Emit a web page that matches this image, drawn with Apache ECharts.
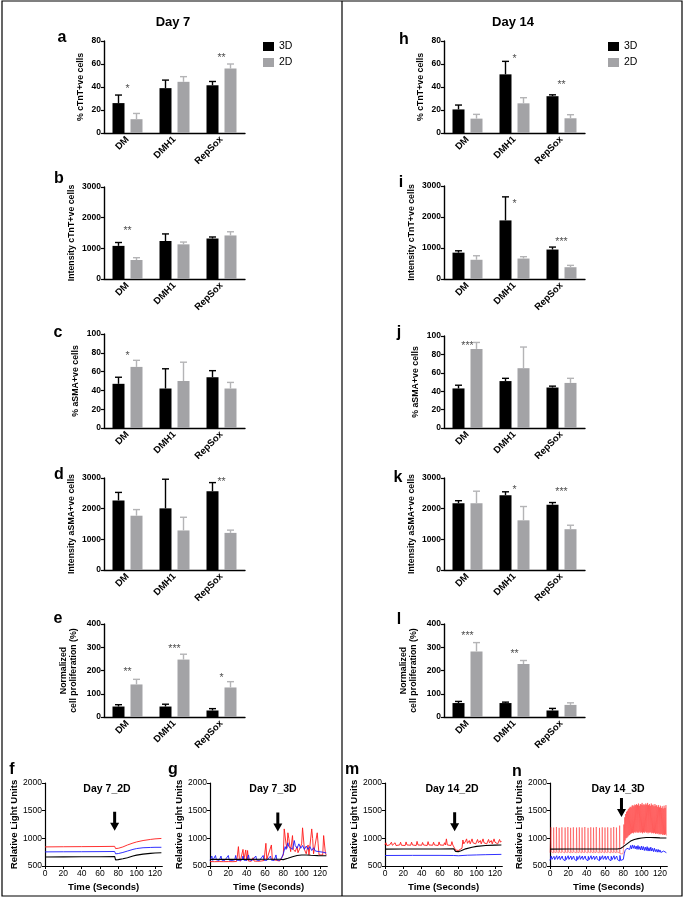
<!DOCTYPE html>
<html><head><meta charset="utf-8">
<script src="https://cdn.jsdelivr.net/npm/echarts@6/dist/echarts.min.js"></script>
<style>html,body{margin:0;padding:0;background:#fff}#c{width:685px;height:902px}</style>
</head><body><div id="c"></div>
<script>
// ---------------- DATA ----------------
const categories = ['DM', 'DMH1', 'RepSox'];
const timeTicks = [0, 20, 40, 60, 80, 100, 120];

// a: % cTnT+ve cells, Day 7
const a3D = [26, 39, 41.5], a3Derr = [7, 7, 3.3];
const a2D = [12, 44.5, 56], a2Derr = [5, 4.5, 4];
const aSig = ['*', '', '**'], aSigY = [41, null, 68];
// b: Intensity cTnT+ve cells, Day 7
const b3D = [1080, 1240, 1320], b3Derr = [110, 230, 50];
const b2D = [620, 1130, 1420], b2Derr = [75, 75, 120];
const bSig = ['**', '', ''], bSigY = [1660, null, null];
// c: % aSMA+ve cells, Day 7
const c3D = [47, 42, 54], c3Derr = [7, 21, 7];
const c2D = [65, 50, 42], c2Derr = [7, 20, 6.5];
const cSig = ['*', '', ''], cSigY = [80, null, null];
// d: Intensity aSMA+ve cells, Day 7
const d3D = [2270, 2010, 2570], d3Derr = [260, 950, 280];
const d2D = [1770, 1290, 1210], d2Derr = [200, 430, 90];
const dSig = ['', '', '**'], dSigY = [null, null, 2950];
// e: Normalized cell proliferation, Day 7
const e3D = [45, 45, 28], e3Derr = [8, 10, 8];
const e2D = [140, 247, 127], e2Derr = [22, 23, 25];
const eSig = ['**', '***', '*'], eSigY = [206, 305, 180];

// h: % cTnT+ve cells, Day 14
const h3D = [20.5, 51, 32], h3Derr = [3.8, 11.3, 1.2];
const h2D = [12.5, 25.8, 12.8], h2Derr = [3.7, 4.9, 3.1];
const hSig = ['', '*', '**'], hSigY = [null, 67, 44.5];
// i: Intensity cTnT+ve cells, Day 14
const i3D = [850, 1890, 950], i3Derr = [60, 760, 80];
const i2D = [620, 660, 380], i2Derr = [130, 60, 60];
const iSig = ['', '*', '***'], iSigY = [null, 2520, 1280];
// j: % aSMA+ve cells, Day 14
const j3D = [43, 51, 44], j3Derr = [3.5, 3, 1.5];
const j2D = [86, 65, 49], j2Derr = [7, 23, 5];
const jSig = ['***', '', ''], jSigY = [92, null, null];
// k: Intensity aSMA+ve cells, Day 14
const k3D = [2180, 2440, 2130], k3Derr = [80, 110, 70];
const k2D = [2180, 1620, 1330], k2Derr = [390, 450, 130];
const kSig = ['', '*', '***'], kSigY = [null, 2700, 2640];
// l: Normalized cell proliferation, Day 14
const l3D = [60, 60, 28], l3Derr = [7, 4, 9];
const l2D = [282, 228, 52], l2Derr = [38, 15, 9];
const lSig = ['***', '**', ''], lSigY = [361, 284, null];

// f: Day 7_2D calcium traces [seconds, RLU]
const fRed = [[0,845],[20,848],[40,850],[60,852],[76,855],[77,815],[80,820],[85,845],[90,880],[96,915],[100,935],[107,960],[115,980],[120,990],[127,998]];
const fBlue = [[0,755],[20,757],[40,758],[60,760],[76,762],[77,720],[80,725],[85,745],[90,770],[96,800],[100,815],[107,830],[115,835],[120,838],[127,838]];
const fBlack = [[0,663],[20,665],[40,666],[60,668],[76,672],[77,610],[80,615],[85,630],[90,650],[96,680],[100,697],[107,715],[115,728],[120,735],[127,740]];
const fArrow = [76, 1310];

// g: Day 7_3D
const gRed = [[0,580],[5,578],[10,580],[15,578],[20,580],[25,578],[29,582],[30,700],[31,850],[32,640],[33,585],[35,600],[36,800],[37,620],[38,590],[39,790],[40,600],[41,780],[42,590],[45,585],[47,650],[48,590],[52,585],[56,590],[59,600],[61,910],[62,620],[64,590],[67,880],[68,620],[70,590],[73,600],[76,590],[78,620],[80,700],[81,1170],[82,1150],[83,900],[84,820],[85,1100],[86,1000],[88,760],[90,1050],[91,800],[93,760],[95,850],[96,740],[98,760],[100,900],[101,1190],[102,1180],[103,800],[105,720],[107,880],[108,700],[110,720],[111,1170],[112,1000],[113,720],[115,700],[117,1100],[118,900],[119,700],[121,690],[123,700],[124,1050],[125,1050],[126,720],[127,700]];
const gBlue = [[0,600],[2,680],[3,600],[5,610],[6,690],[7,610],[10,600],[12,680],[13,605],[16,600],[18,620],[20,690],[21,605],[24,600],[27,610],[28,690],[29,605],[32,600],[35,610],[36,680],[37,605],[40,600],[42,700],[43,610],[46,600],[48,620],[50,680],[51,605],[54,600],[56,610],[58,690],[59,605],[62,600],[64,610],[66,680],[67,605],[70,600],[72,700],[73,610],[76,600],[78,640],[80,720],[82,850],[83,800],[85,920],[86,850],[88,880],[90,800],[92,960],[93,870],[95,820],[97,900],[99,820],[101,870],[103,800],[105,860],[107,800],[109,850],[111,780],[113,830],[115,770],[117,800],[119,760],[121,780],[123,750],[125,740],[127,735]];
const gBlack = [[0,620],[20,622],[40,620],[60,622],[76,622],[78,610],[80,615],[85,640],[90,668],[95,690],[100,700],[105,700],[110,695],[118,688],[127,685]];
const gArrow = [74, 1295];

// m: Day 14_2D
const mRed = [[0,880],[1,920],[2,870],[4,900],[5,880],[7,930],[8,875],[10,890],[11,920],[12,870],[14,900],[16,880],[17,930],[18,875],[20,895],[22,870],[23,935],[24,880],[26,890],[28,875],[29,930],[30,880],[32,900],[34,870],[35,945],[36,880],[38,895],[40,875],[41,925],[42,880],[44,905],[46,870],[47,940],[48,880],[50,895],[52,875],[53,930],[54,880],[56,900],[58,870],[59,935],[60,880],[62,900],[64,875],[65,920],[66,880],[67,990],[68,880],[70,895],[72,870],[73,940],[74,880],[76,870],[77,790],[80,780],[82,790],[84,820],[85,970],[86,900],[88,950],[89,990],[90,910],[92,960],[93,900],[95,990],[96,920],[98,950],[99,900],[101,980],[102,920],[104,960],[105,900],[107,990],[108,920],[110,950],[111,900],[113,980],[114,920],[116,960],[117,900],[119,990],[120,930],[122,950],[123,900],[125,980],[126,930],[127,950]];
const mBlue = [[0,690],[30,692],[60,692],[75,690],[80,685],[90,695],[100,700],[110,705],[127,710]];
const mBlack = [[0,805],[20,807],[40,808],[60,808],[75,810],[77,765],[80,760],[83,775],[88,810],[95,840],[100,855],[110,870],[120,878],[127,880]];
const mArrow = [76, 1300];

// n: Day 14_3D
const nRed = [[0,740],[0.7,735],[1,1200],[1.4,760],[3.7,735],[4,1195],[4.4,755],[6.7,740],[7,1205],[7.4,760],[9.7,735],[10,1190],[10.4,755],[12.7,740],[13,1200],[13.4,760],[16.2,735],[16.5,1195],[16.9,755],[19.2,740],[19.5,1205],[19.9,760],[22.2,735],[22.5,1190],[22.9,755],[25.2,740],[25.5,1200],[25.9,760],[28.7,735],[29,1195],[29.4,755],[31.7,740],[32,1200],[32.4,760],[34.7,735],[35,1195],[35.4,755],[37.7,740],[38,1205],[38.4,760],[41.2,735],[41.5,1190],[41.9,755],[44.2,740],[44.5,1200],[44.9,760],[47.2,735],[47.5,1195],[47.9,755],[50.2,740],[50.5,1205],[50.9,760],[53.7,735],[54,1190],[54.4,755],[56.7,740],[57,1200],[57.4,760],[59.7,735],[60,1195],[60.4,755],[62.7,740],[63,1200],[63.4,760],[66.2,735],[66.5,1190],[66.9,755],[69.2,740],[69.5,1205],[69.9,760],[72.2,735],[72.5,1195],[72.9,755],[75.7,740],[76,1230],[76.4,720],[78,700],[79.5,720],
  [80,760],[80.5,1250],[81,900],[81.5,1380],[82,960],[82.5,1440],[83,1000],[83.5,1480],[84,1010],[84.5,1500],[85,1030],[85.5,1530],[86,1050],[86.5,1550],[87,1060],[87.5,1570],[88,1080],[88.5,1560],[89,1090],[89.5,1590],[90,1100],[90.5,1600],[91,1090],[91.5,1580],[92,1110],[92.5,1610],[93,1100],[93.5,1600],[94,1120],[94.5,1620],[95,1100],[95.5,1600],[96,1110],[96.5,1630],[97,1100],[97.5,1590],[98,1120],[98.5,1620],[99,1100],[99.5,1610],[100,1110],[100.5,1640],[101,1090],[101.5,1600],[102,1110],[102.5,1620],[103,1100],[103.5,1600],[104,1120],[104.5,1630],[105,1100],[105.5,1610],[106,1110],[106.5,1640],[107,1090],[107.5,1600],[108,1110],[108.5,1620],[109,1100],[109.5,1590],[110,1110],[110.5,1630],[111,1090],[111.5,1600],[112,1100],[112.5,1610],[113,1090],[113.5,1580],[114,1100],[114.5,1620],[115,1080],[115.5,1590],[116,1090],[116.5,1600],[117,1080],[117.5,1570],[118,1090],[118.5,1600],[119,1070],[119.5,1560],[120,1080],[120.5,1590],[121,1070],[121.5,1550],[122,1080],[122.5,1580],[123,1060],[123.5,1540],[124,1070],[124.5,1590],[125,1060],[125.5,1550],[126,1070],[126.5,1600],[127,1050]];
const nBlue = [[0,600],[1,595],[1.3,680],[2.2,620],[4,595],[4.3,675],[5.2,615],[7,595],[7.3,685],[8.2,620],[10,595],[10.3,680],[11.2,615],[13,595],[13.3,680],[14.2,620],[16.5,595],[16.8,675],[17.7,615],[19.5,595],[19.8,685],[20.7,620],[22.5,595],[22.8,680],[23.7,615],[25.5,595],[25.8,680],[26.7,620],[29,595],[29.3,675],[30.2,615],[32,595],[32.3,685],[33.2,620],[35,595],[35.3,680],[36.2,615],[38,595],[38.3,680],[39.2,620],[41.5,595],[41.8,675],[42.7,615],[44.5,595],[44.8,685],[45.7,620],[47.5,595],[47.8,680],[48.7,615],[50.5,595],[50.8,680],[51.7,620],[54,595],[54.3,675],[55.2,615],[57,595],[57.3,685],[58.2,620],[60,595],[60.3,680],[61.2,615],[63,595],[63.3,680],[64.2,620],[66.5,595],[66.8,675],[67.7,615],[69.5,595],[69.8,685],[70.7,620],[72.5,595],[72.8,680],[73.7,615],[76,590],[76.3,690],[77.2,600],[78.5,565],[80,620],
  [81,720],[82,780],[83,760],[84,820],[85,790],[86,850],[87,800],[88,870],[89,810],[90,880],[91,820],[92,870],[93,810],[94,860],[95,800],[96,870],[97,800],[98,850],[99,790],[100,860],[101,790],[102,850],[103,780],[104,840],[105,780],[106,850],[107,770],[108,830],[109,770],[110,840],[111,770],[112,820],[113,760],[114,820],[115,760],[116,800],[117,750],[118,800],[119,750],[120,790],[121,745],[122,780],[123,745],[124,770],[125,740],[126,750],[127,740]];
const nBlack = [[0,805],[20,808],[40,806],[60,808],[74,810],[77,815],[80,850],[84,900],[88,950],[92,980],[96,995],[100,1005],[105,1015],[110,1015],[115,1012],[120,1008],[127,1005]];
const nArrow = [78, 1557];

// ---------------- BUILD ----------------
const FONT = "'Liberation Sans', Arial, Helvetica, sans-serif";
const C3D = '#000000', C2D = '#a3a3a6', C2DERR = '#b4b4b6';
const grids = [], xAxis = [], yAxis = [], series = [], graphic = [], legend = [];
const ARROW = 'path://M3,0 L6,0 L6,11 L9,11 L4.5,19 L0,11 L3,11 Z';
const plain = v => String(v);

function errSeries(i, vals, errs, color, off) {
  return {
    type: 'custom', xAxisIndex: i, yAxisIndex: i, z: 3, silent: true,
    data: vals.map((v, k) => [k, v, errs[k]]),
    renderItem: (params, api) => {
      const k = api.value(0), v = api.value(1), e = api.value(2);
      const p0 = api.coord([k, v]), p1 = api.coord([k, v + e]);
      const x = p0[0] + off;
      return { type: 'group', children: [
        { type: 'line', shape: { x1: x, y1: p0[1], x2: x, y2: p1[1] }, style: { stroke: color, lineWidth: 1.4 } },
        { type: 'line', shape: { x1: x - 3.5, y1: p1[1], x2: x + 3.5, y2: p1[1] }, style: { stroke: color, lineWidth: 1.4 } }
      ]};
    }
  };
}

function addBarPanel(box, yMax, yStep, yName, nameGap, v3, e3, v2, e2, sig, sigY) {
  const i = grids.length;
  grids.push({ left: box[0], top: box[1], width: box[2], height: box[3] });
  xAxis.push({ gridIndex: i, type: 'category', data: categories,
    axisLine: { lineStyle: { color: '#000', width: 1.4 } },
    axisTick: { alignWithLabel: true, length: 3, lineStyle: { color: '#000', width: 1.2 } },
    axisLabel: { rotate: 45, fontSize: 9.5, fontWeight: 'bold', color: '#000', fontFamily: FONT, margin: 5 } });
  yAxis.push({ gridIndex: i, type: 'value', min: 0, max: yMax, interval: yStep,
    name: yName, nameLocation: 'middle', nameGap: nameGap,
    nameTextStyle: { fontFamily: FONT, fontWeight: 'bold', fontSize: 8.8, color: '#000', lineHeight: 10 },
    axisLine: { show: true, lineStyle: { color: '#000', width: 1.4 } },
    axisTick: { show: true, length: 3, lineStyle: { color: '#000', width: 1.2 } },
    axisLabel: { fontSize: 8.5, fontWeight: 'bold', color: '#000', fontFamily: FONT, margin: 3, formatter: plain },
    splitLine: { show: false } });
  series.push({ type: 'bar', name: '3D', xAxisIndex: i, yAxisIndex: i, data: v3, barWidth: 12, barGap: '50%', itemStyle: { color: C3D } });
  series.push({ type: 'bar', name: '2D', xAxisIndex: i, yAxisIndex: i, data: v2, barWidth: 12, barGap: '50%', itemStyle: { color: C2D } });
  series.push(errSeries(i, v3, e3, C3D, -9));
  series.push(errSeries(i, v2, e2, C2DERR, 9));
  const sd = [];
  sig.forEach((s, k) => { if (s) sd.push({ name: s, value: [k, sigY[k]] }); });
  series.push({ type: 'scatter', xAxisIndex: i, yAxisIndex: i, symbolSize: 1, silent: true,
    itemStyle: { color: 'rgba(0,0,0,0)' }, data: sd,
    label: { show: true, position: 'inside', formatter: '{b}', fontSize: 10.5, color: '#222', fontFamily: FONT, offset: [0, 3] } });
}

function addLinePanel(box, red, blue, black, arrow, dense) {
  const i = grids.length;
  grids.push({ left: box[0], top: box[1], width: box[2], height: box[3] });
  xAxis.push({ gridIndex: i, type: 'value', min: 0, max: 128,
    name: 'Time (Seconds)', nameLocation: 'middle', nameGap: 16,
    nameTextStyle: { fontFamily: FONT, fontWeight: 'bold', fontSize: 9.6, color: '#000' },
    axisLine: { lineStyle: { color: '#000', width: 1.2 } },
    axisTick: { customValues: timeTicks, length: 3, lineStyle: { color: '#000' } },
    axisLabel: { customValues: timeTicks, fontSize: 8.5, color: '#000', fontFamily: FONT, margin: 3 },
    splitLine: { show: false } });
  yAxis.push({ gridIndex: i, type: 'value', min: 500, max: 2000, interval: 500,
    name: 'Relative Light Units', nameLocation: 'middle', nameGap: 24,
    nameTextStyle: { fontFamily: FONT, fontWeight: 'bold', fontSize: 9.6, color: '#000' },
    axisLine: { show: true, lineStyle: { color: '#000', width: 1.2 } },
    axisTick: { show: true, length: 3, lineStyle: { color: '#000' } },
    axisLabel: { fontSize: 8.5, color: '#000', fontFamily: FONT, margin: 3, formatter: plain },
    splitLine: { show: false } });
  const ls = (d, c, w, op) => ({ type: 'line', xAxisIndex: i, yAxisIndex: i, data: d, showSymbol: false, symbol: 'none', silent: true,
    lineStyle: { color: c, width: w, opacity: op } });
  series.push(ls(red, '#ff1a1a', dense ? 0.6 : 0.9, dense ? 0.75 : 1));
  series.push(ls(blue, '#1a1aff', 0.9, 1));
  const bl = ls(black, '#000', 1.1, 1);
  bl.markPoint = { symbol: ARROW, symbolSize: [9, 19], silent: true, itemStyle: { color: '#000' }, label: { show: false }, data: [{ coord: arrow }] };
  series.push(bl);
}

const L = 104, R = 444, W = 141;
addBarPanel([L, 41, W, 92], 80, 20, '% cTnT+ve cells', 18, a3D, a3Derr, a2D, a2Derr, aSig, aSigY);
addBarPanel([L, 187, W, 92], 3000, 1000, 'Intensity cTnT+ve cells', 27, b3D, b3Derr, b2D, b2Derr, bSig, bSigY);
addBarPanel([L, 334, W, 94], 100, 20, '% aSMA+ve cells', 23, c3D, c3Derr, c2D, c2Derr, cSig, cSigY);
addBarPanel([L, 478, W, 92], 3000, 1000, 'Intensity aSMA+ve cells', 27, d3D, d3Derr, d2D, d2Derr, dSig, dSigY);
addBarPanel([L, 624, W, 93], 400, 100, 'Normalized\ncell proliferation (%)', 25, e3D, e3Derr, e2D, e2Derr, eSig, eSigY);
addBarPanel([R, 41, W, 92], 80, 20, '% cTnT+ve cells', 18, h3D, h3Derr, h2D, h2Derr, hSig, hSigY);
addBarPanel([R, 186, W, 93], 3000, 1000, 'Intensity cTnT+ve cells', 27, i3D, i3Derr, i2D, i2Derr, iSig, iSigY);
addBarPanel([R, 336, W, 92], 100, 20, '% aSMA+ve cells', 23, j3D, j3Derr, j2D, j2Derr, jSig, jSigY);
addBarPanel([R, 478, W, 92], 3000, 1000, 'Intensity aSMA+ve cells', 27, k3D, k3Derr, k2D, k2Derr, kSig, kSigY);
addBarPanel([R, 624, W, 93], 400, 100, 'Normalized\ncell proliferation (%)', 25, l3D, l3Derr, l2D, l2Derr, lSig, lSigY);

addLinePanel([45, 783, 117.3, 83], fRed, fBlue, fBlack, fArrow, false);
addLinePanel([210, 783, 117.3, 83], gRed, gBlue, gBlack, gArrow, false);
addLinePanel([385, 783, 117.3, 83], mRed, mBlue, mBlack, mArrow, false);
addLinePanel([550, 783, 117.3, 83], nRed, nBlue, nBlack, nArrow, true);

[[263, 41], [608, 41]].forEach(p => legend.push({
  left: p[0], top: p[1], orient: 'vertical', icon: 'rect', itemWidth: 11, itemHeight: 9, itemGap: 5, padding: 0,
  data: ['3D', '2D'], selectedMode: false,
  textStyle: { fontSize: 10.5, color: '#000', fontFamily: FONT }
}));

function txt(t, x, y, size, weight) {
  graphic.push({ type: 'text', silent: true, style: { text: t, x: x, y: y, fill: '#000',
    font: (weight || 'bold') + ' ' + size + 'px ' + FONT, textAlign: 'center', align: 'center', textVerticalAlign: 'middle', verticalAlign: 'middle' } });
}
graphic.push({ type: 'rect', silent: true, shape: { x: 2, y: 1, width: 680, height: 895 }, style: { fill: 'rgba(0,0,0,0)', stroke: '#000', lineWidth: 1.2 } });
graphic.push({ type: 'line', silent: true, shape: { x1: 342, y1: 1, x2: 342, y2: 896 }, style: { stroke: '#000', lineWidth: 1.2 } });
txt('Day 7', 173, 22, 13); txt('Day 14', 513, 22, 13);
txt('a', 62, 38, 16); txt('b', 59, 179, 16); txt('c', 58, 333, 16); txt('d', 59, 475, 16); txt('e', 58, 619, 16);
txt('h', 404, 40, 16); txt('i', 401, 183, 16); txt('j', 399, 333, 16); txt('k', 398, 478, 16); txt('l', 399, 620, 16);
txt('f', 12, 770, 16); txt('g', 173, 770, 16); txt('m', 352, 770, 16); txt('n', 517, 772, 16);
txt('Day 7_2D', 107, 789, 10.5); txt('Day 7_3D', 273, 789, 10.5); txt('Day 14_2D', 452, 789, 10.5); txt('Day 14_3D', 618, 789, 10.5);

const chart = echarts.init(document.getElementById('c'), null, { renderer: 'canvas' });
chart.setOption({ animation: false, backgroundColor: '#fff', grid: grids, xAxis, yAxis, series, legend, graphic });
</script></body></html>
